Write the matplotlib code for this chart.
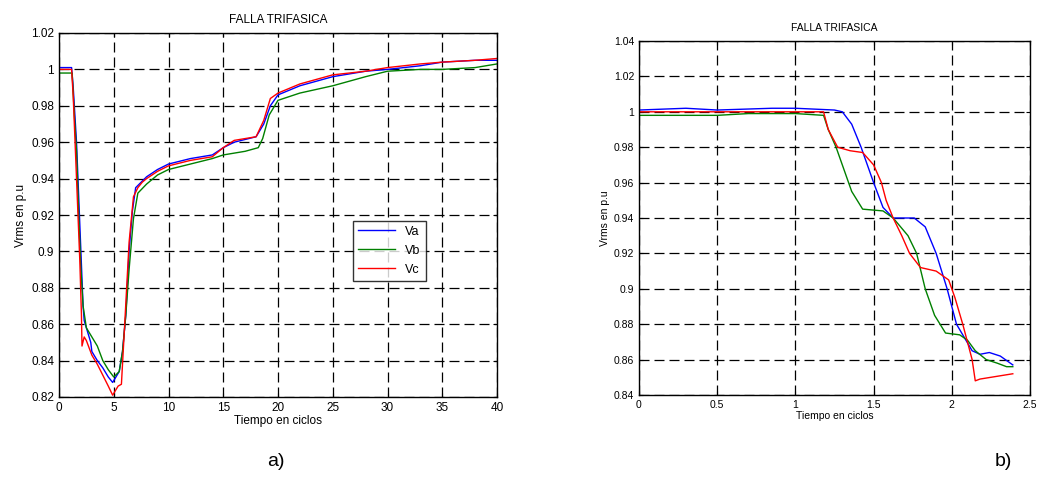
import matplotlib
matplotlib.use("Agg")
import matplotlib.pyplot as plt
from matplotlib.ticker import MultipleLocator

plt.rcParams["font.family"] = ["Liberation Sans", "DejaVu Sans"]

# ---- panel a) : full event, time in cycles 0..40 ----
ta_a = [0, 1.15, 1.3, 1.6, 1.8, 2.0, 2.2, 2.3, 2.5, 2.9, 3.0, 3.5, 4.0, 4.5, 4.9,
        5.2, 5.5, 5.8, 6.1, 6.4, 6.7, 7.0, 7.5, 8, 9, 10, 12, 14, 15, 16, 18,
        18.7, 19.3, 20, 22, 25, 28, 30, 33, 35, 38, 40]
va_a = [1.001, 1.001, 0.99, 0.96, 0.93, 0.90, 0.87, 0.862, 0.858, 0.85, 0.845,
        0.840, 0.836, 0.831, 0.828, 0.831, 0.834, 0.845, 0.865, 0.90, 0.922,
        0.935, 0.938, 0.941, 0.945, 0.948, 0.951, 0.953, 0.957, 0.960, 0.963,
        0.970, 0.980, 0.986, 0.991, 0.996, 0.999, 1.000, 1.002, 1.004, 1.005, 1.005]

tb_a = [0, 1.2, 1.4, 1.6, 1.8, 2.0, 2.2, 2.5, 3.0, 3.5, 4.0, 4.5, 5.0, 5.5, 5.8,
        6.1, 6.4, 6.8, 7.2, 8, 9, 10, 12, 14, 15, 17, 18.2, 18.6, 19.2, 20, 22,
        25, 28, 30, 33, 35, 38, 40]
vb_a = [0.998, 0.998, 0.975, 0.955, 0.92, 0.89, 0.87, 0.858, 0.853, 0.848, 0.840,
        0.835, 0.831, 0.834, 0.845, 0.865, 0.89, 0.918, 0.932, 0.937, 0.942, 0.945,
        0.948, 0.951, 0.953, 0.955, 0.957, 0.962, 0.975, 0.983, 0.987, 0.991,
        0.996, 0.999, 1.000, 1.000, 1.001, 1.003]

tc_a = [0, 1.15, 1.3, 1.5, 1.7, 1.9, 2.05, 2.1, 2.3, 2.5, 3.0, 3.5, 4.0, 4.5,
        4.9, 5.1, 5.4, 5.7, 6.0, 6.4, 6.8, 7.2, 7.6, 8, 9, 10, 12, 14, 15, 16,
        18, 18.7, 19.3, 20, 22, 25, 28, 30, 33, 35, 38, 40]
vc_a = [1.000, 1.000, 0.985, 0.955, 0.925, 0.895, 0.865, 0.848, 0.853, 0.851,
        0.843, 0.838, 0.832, 0.826, 0.821, 0.823, 0.826, 0.827, 0.86, 0.905,
        0.93, 0.935, 0.938, 0.940, 0.944, 0.947, 0.950, 0.952, 0.957, 0.961,
        0.963, 0.972, 0.984, 0.987, 0.992, 0.997, 0.999, 1.001, 1.003, 1.004,
        1.005, 1.006]

# ---- panel b) : zoom on the first cycles ----
ta_b = [0, 0.3, 0.5, 0.85, 1.0, 1.25, 1.3, 1.36, 1.42, 1.5, 1.56, 1.625, 1.76,
        1.83, 1.9, 1.97, 2.03, 2.13, 2.18, 2.24, 2.31, 2.39]
va_b = [1.001, 1.002, 1.001, 1.002, 1.002, 1.001, 1.0, 0.993, 0.98, 0.96, 0.946,
        0.94, 0.94, 0.935, 0.92, 0.90, 0.88, 0.865, 0.863, 0.864, 0.862, 0.857]

tb_b = [0, 0.5, 0.7, 1.0, 1.18, 1.21, 1.26, 1.32, 1.36, 1.43, 1.56, 1.625, 1.72,
        1.775, 1.83, 1.89, 1.96, 2.05, 2.1, 2.15, 2.22, 2.29, 2.35, 2.39]
vb_b = [0.998, 0.998, 0.999, 0.999, 0.998, 0.99, 0.98, 0.965, 0.955, 0.945,
        0.944, 0.94, 0.93, 0.92, 0.90, 0.885, 0.875, 0.874, 0.871, 0.865, 0.86,
        0.858, 0.856, 0.856]

tc_b = [0, 0.5, 1.0, 1.18, 1.21, 1.27, 1.35, 1.43, 1.5, 1.55, 1.58, 1.625, 1.68,
        1.73, 1.8, 1.9, 1.98, 2.02, 2.07, 2.13, 2.15, 2.18, 2.25, 2.32, 2.39]
vc_b = [1.000, 1.000, 1.000, 1.000, 0.99, 0.98, 0.978, 0.977, 0.97, 0.96, 0.95,
        0.94, 0.93, 0.92, 0.912, 0.91, 0.905, 0.895, 0.88, 0.86, 0.848, 0.849,
        0.850, 0.851, 0.852]

TITLE = "FALLA TRIFASICA"
XLAB = "Tiempo en ciclos"
YLAB = "Vrms en p.u"
COLORS = {"Va": "#0000ff", "Vb": "#008000", "Vc": "#ff0000"}


def style_axes(ax, fs):
    ax.grid(True, color="black", linestyle=(0, (8, 4)), linewidth=0.9)
    ax.tick_params(direction="in", labelsize=fs, length=3, top=True, right=True)
    for sp in ax.spines.values():
        sp.set_linewidth(1.0)


fig = plt.figure(figsize=(10.53, 5.0), dpi=100)
W, H = 1053.0, 500.0

# left panel
ax1 = fig.add_axes([59 / W, 1 - 397 / H, 438 / W, 364 / H])
ax1.plot(ta_a, va_a, color=COLORS["Va"], lw=1.0, label="Va")
ax1.plot(tb_a, vb_a, color=COLORS["Vb"], lw=1.0, label="Vb")
ax1.plot(tc_a, vc_a, color=COLORS["Vc"], lw=1.0, label="Vc")
ax1.set_xlim(0, 40)
ax1.set_ylim(0.82, 1.02)
ax1.xaxis.set_major_locator(MultipleLocator(5))
ax1.set_yticks([0.82 + 0.02 * i for i in range(11)])
ax1.set_yticklabels(["0.82", "0.84", "0.86", "0.88", "0.9", "0.92", "0.94",
                     "0.96", "0.98", "1", "1.02"])
style_axes(ax1, 8.5)
ax1.set_title(TITLE, fontsize=8.5, pad=7)
ax1.set_xlabel(XLAB, fontsize=8.5, labelpad=1)
ax1.set_ylabel(YLAB, fontsize=8.5, labelpad=3)
leg = ax1.legend(loc="upper left", bbox_to_anchor=(0.671, 0.484), fontsize=9,
                 frameon=True, fancybox=False, edgecolor="black",
                 handlelength=3.0, borderaxespad=0, labelspacing=0.55)
leg.get_frame().set_linewidth(1.0)

# right panel
ax2 = fig.add_axes([639 / W, 1 - 395 / H, 391 / W, 354 / H])
ax2.plot(ta_b, va_b, color=COLORS["Va"], lw=1.0)
ax2.plot(tb_b, vb_b, color=COLORS["Vb"], lw=1.0)
ax2.plot(tc_b, vc_b, color=COLORS["Vc"], lw=1.0)
ax2.set_xlim(0, 2.5)
ax2.set_ylim(0.84, 1.04)
ax2.set_xticks([0, 0.5, 1, 1.5, 2, 2.5])
ax2.set_xticklabels(["0", "0.5", "1", "1.5", "2", "2.5"])
ax2.set_yticks([0.84 + 0.02 * i for i in range(11)])
ax2.set_yticklabels(["0.84", "0.86", "0.88", "0.9", "0.92", "0.94", "0.96",
                     "0.98", "1", "1.02", "1.04"])
style_axes(ax2, 7.5)
ax2.set_title(TITLE, fontsize=7.5, pad=7)
ax2.set_xlabel(XLAB, fontsize=7.5, labelpad=1)
ax2.set_ylabel(YLAB, fontsize=7.5, labelpad=3)

fig.text(276 / W, 1 - 461 / H, "a)", fontsize=14, ha="center", va="center")
fig.text(1003 / W, 1 - 461 / H, "b)", fontsize=14, ha="center", va="center")

fig.savefig("out.png", dpi=100)
